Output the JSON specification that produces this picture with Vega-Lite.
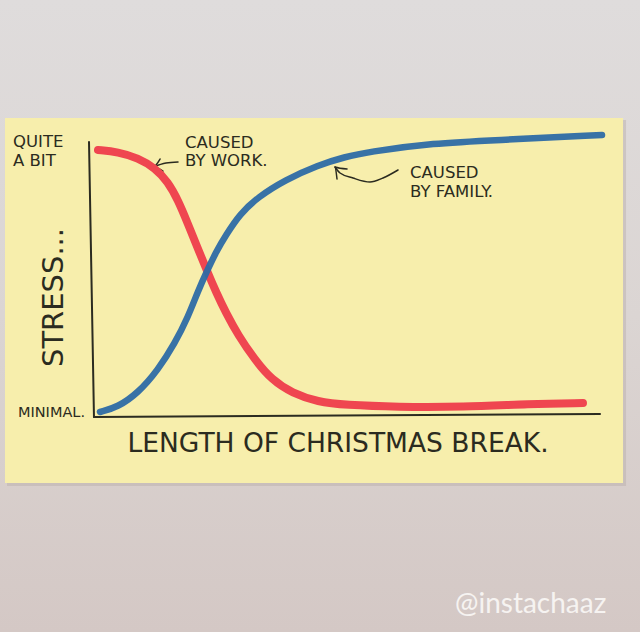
{
  "$schema": "https://vega.github.io/schema/vega-lite/v6.json",
  "width": 640,
  "height": 632,
  "autosize": {"type": "none"},
  "padding": 0,
  "background": "#dad5d3",
  "config": {"view": {"stroke": null}},
  "datasets": {
    "paper": [
      {"part": "background", "x": -1.811, "x2": 10.787, "y": -7.818, "y2": 15.164}
    ],
    "shadow": [
      {"part": "shadow", "x": -1.673, "x2": 10.512, "y": -2.509, "y2": 10.8}
    ],
    "note": [
      {"part": "note", "x": -1.713, "x2": 10.453, "y": -2.4, "y2": 10.873}
    ],
    "axes": [
      {"line": "y axis", "i": 0, "x": -0.059, "y": 10.0},
      {"line": "y axis", "i": 1, "x": 0.039, "y": 0.0},
      {"line": "x axis", "i": 0, "x": 0.039, "y": 0.0},
      {"line": "x axis", "i": 1, "x": 10.0, "y": 0.109}
    ],
    "arrows": [
      {"line": "work shaft", "i": 0, "x": 1.693, "y": 9.273},
      {"line": "work shaft", "i": 1, "x": 1.457, "y": 9.236},
      {"line": "work shaft", "i": 2, "x": 1.201, "y": 9.091},
      {"line": "work head", "i": 0, "x": 1.339, "y": 9.382},
      {"line": "work head", "i": 1, "x": 1.201, "y": 9.091},
      {"line": "work head", "i": 2, "x": 1.398, "y": 8.945},
      {"line": "family shaft", "i": 0, "x": 6.024, "y": 8.982},
      {"line": "family shaft", "i": 1, "x": 5.728, "y": 8.691},
      {"line": "family shaft", "i": 2, "x": 5.472, "y": 8.545},
      {"line": "family shaft", "i": 3, "x": 5.138, "y": 8.691},
      {"line": "family shaft", "i": 4, "x": 4.882, "y": 8.873},
      {"line": "family shaft", "i": 5, "x": 4.783, "y": 9.091},
      {"line": "family head", "i": 0, "x": 4.823, "y": 8.655},
      {"line": "family head", "i": 1, "x": 4.783, "y": 9.091},
      {"line": "family head", "i": 2, "x": 5.02, "y": 9.018}
    ],
    "work": [
      {"x": 0.118, "y": 9.709}, {"x": 0.512, "y": 9.636}, {"x": 0.906, "y": 9.418},
      {"x": 1.24, "y": 9.055}, {"x": 1.496, "y": 8.545}, {"x": 1.693, "y": 7.891},
      {"x": 1.89, "y": 7.018}, {"x": 2.087, "y": 6.109}, {"x": 2.264, "y": 5.309},
      {"x": 2.441, "y": 4.545}, {"x": 2.638, "y": 3.782}, {"x": 2.874, "y": 2.982},
      {"x": 3.209, "y": 2.073}, {"x": 3.543, "y": 1.345}, {"x": 3.937, "y": 0.873},
      {"x": 4.449, "y": 0.545}, {"x": 4.98, "y": 0.436}, {"x": 6.004, "y": 0.364},
      {"x": 7.303, "y": 0.364}, {"x": 8.622, "y": 0.473}, {"x": 9.665, "y": 0.509}
    ],
    "family": [
      {"x": 0.157, "y": 0.182}, {"x": 0.512, "y": 0.364}, {"x": 0.906, "y": 0.873},
      {"x": 1.299, "y": 1.709}, {"x": 1.634, "y": 2.691}, {"x": 1.89, "y": 3.636},
      {"x": 2.087, "y": 4.582}, {"x": 2.264, "y": 5.309}, {"x": 2.441, "y": 6.0},
      {"x": 2.638, "y": 6.618}, {"x": 2.913, "y": 7.382}, {"x": 3.268, "y": 8.0},
      {"x": 3.799, "y": 8.618}, {"x": 4.449, "y": 9.164}, {"x": 4.98, "y": 9.455},
      {"x": 5.413, "y": 9.636}, {"x": 6.713, "y": 9.964}, {"x": 8.031, "y": 10.073},
      {"x": 10.039, "y": 10.255}
    ],
    "labels": [
      {"text": "QUITE", "x": -1.555, "y": 9.818},
      {"text": "A BIT", "x": -1.555, "y": 9.127},
      {"text": "CAUSED", "x": 1.831, "y": 9.782},
      {"text": "BY WORK.", "x": 1.831, "y": 9.127},
      {"text": "CAUSED", "x": 6.26, "y": 8.691},
      {"text": "BY FAMILY.", "x": 6.26, "y": 8.0}
    ],
    "minimal": [{"text": "MINIMAL.", "x": -1.457, "y": 0.0}],
    "ytitle": [{"text": "STRESS...", "x": -0.571, "y": 1.818}],
    "xtitle": [{"text": "LENGTH OF CHRISTMAS BREAK.", "x": 4.843, "y": -1.273}],
    "credit": [{"text": "@instachaaz", "x": 7.146, "y": -7.127}]
  },
  "layer": [
    {
      "data": {"name": "paper"},
      "mark": {
        "type": "rect",
        "color": {
          "gradient": "linear", "x1": 0, "y1": 0, "x2": 0, "y2": 1,
          "stops": [
            {"offset": 0, "color": "#dfdcdc"},
            {"offset": 0.5, "color": "#dbd5d3"},
            {"offset": 1, "color": "#d4c8c5"}
          ]
        }
      },
      "encoding": {
        "x": {"field": "x", "type": "quantitative", "scale": {"domain": [-1.811, 10.787], "nice": false, "zero": false}, "axis": null},
        "x2": {"field": "x2"},
        "y": {"field": "y", "type": "quantitative", "scale": {"domain": [-7.818, 15.164], "nice": false, "zero": false}, "axis": null},
        "y2": {"field": "y2"}
      }
    },
    {
      "data": {"name": "shadow"},
      "mark": {"type": "rect", "color": "#b9ada8", "opacity": 0.45},
      "encoding": {
        "x": {"field": "x", "type": "quantitative"},
        "x2": {"field": "x2"},
        "y": {"field": "y", "type": "quantitative"},
        "y2": {"field": "y2"}
      }
    },
    {
      "data": {"name": "note"},
      "mark": {"type": "rect", "color": "#f7eeac"},
      "encoding": {
        "x": {"field": "x", "type": "quantitative"},
        "x2": {"field": "x2"},
        "y": {"field": "y", "type": "quantitative"},
        "y2": {"field": "y2"}
      }
    },
    {
      "data": {"name": "axes"},
      "mark": {"type": "line", "color": "#2b2b20", "strokeWidth": 2, "strokeCap": "round"},
      "encoding": {
        "x": {"field": "x", "type": "quantitative"},
        "y": {"field": "y", "type": "quantitative"},
        "detail": {"field": "line", "type": "nominal"},
        "order": {"field": "i", "type": "quantitative"}
      }
    },
    {
      "data": {"name": "arrows"},
      "mark": {"type": "line", "color": "#2b2b20", "strokeWidth": 1.5, "strokeCap": "round", "strokeJoin": "round", "interpolate": "monotone"},
      "encoding": {
        "x": {"field": "x", "type": "quantitative"},
        "y": {"field": "y", "type": "quantitative"},
        "detail": {"field": "line", "type": "nominal"},
        "order": {"field": "i", "type": "quantitative"}
      }
    },
    {
      "data": {"name": "work"},
      "mark": {"type": "line", "color": "#ef4650", "strokeWidth": 8, "strokeCap": "round", "interpolate": "basis"},
      "encoding": {
        "x": {"field": "x", "type": "quantitative"},
        "y": {"field": "y", "type": "quantitative"}
      }
    },
    {
      "data": {"name": "family"},
      "mark": {"type": "line", "color": "#2d6aa5", "strokeWidth": 6.5, "strokeCap": "round", "interpolate": "basis", "opacity": 0.95},
      "encoding": {
        "x": {"field": "x", "type": "quantitative"},
        "y": {"field": "y", "type": "quantitative"}
      }
    },
    {
      "data": {"name": "labels"},
      "mark": {"type": "text", "font": "DejaVu Sans", "fontSize": 16.5, "color": "#2b2b20", "align": "left", "baseline": "alphabetic"},
      "encoding": {
        "x": {"field": "x", "type": "quantitative"},
        "y": {"field": "y", "type": "quantitative"},
        "text": {"field": "text"}
      }
    },
    {
      "data": {"name": "minimal"},
      "mark": {"type": "text", "font": "DejaVu Sans", "fontSize": 14.5, "color": "#2b2b20", "align": "left", "baseline": "alphabetic"},
      "encoding": {
        "x": {"field": "x", "type": "quantitative"},
        "y": {"field": "y", "type": "quantitative"},
        "text": {"field": "text"}
      }
    },
    {
      "data": {"name": "ytitle"},
      "mark": {"type": "text", "font": "DejaVu Sans", "fontSize": 29, "color": "#2b2b20", "align": "left", "baseline": "alphabetic", "angle": 270},
      "encoding": {
        "x": {"field": "x", "type": "quantitative"},
        "y": {"field": "y", "type": "quantitative"},
        "text": {"field": "text"}
      }
    },
    {
      "data": {"name": "xtitle"},
      "mark": {"type": "text", "font": "DejaVu Sans", "fontSize": 26.5, "color": "#2b2b20", "align": "center", "baseline": "alphabetic"},
      "encoding": {
        "x": {"field": "x", "type": "quantitative"},
        "y": {"field": "y", "type": "quantitative"},
        "text": {"field": "text"}
      }
    },
    {
      "data": {"name": "credit"},
      "mark": {"type": "text", "font": "Lato", "fontSize": 28, "color": "#f6f3f1", "align": "left", "baseline": "alphabetic"},
      "encoding": {
        "x": {"field": "x", "type": "quantitative"},
        "y": {"field": "y", "type": "quantitative"},
        "text": {"field": "text"}
      }
    }
  ]
}
